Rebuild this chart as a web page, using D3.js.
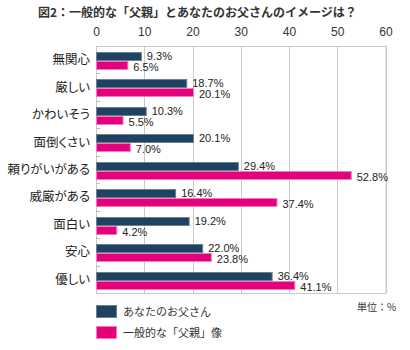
<!DOCTYPE html>
<html><head><meta charset="utf-8">
<script src="https://cdn.jsdelivr.net/npm/d3@7"></script>
<style>
body{margin:0;background:#fff;}
svg{display:block;font-family:"Liberation Sans","Noto Sans CJK JP",sans-serif;}
.jp{font-family:"Noto Sans CJK JP",sans-serif;}
.cat{font-feature-settings:"palt";}
</style></head>
<body><svg id="c" width="410" height="350"></svg>
<script>
const categories = ["無関心","厳しい","かわいそう","面倒くさい","頼りがいがある","威厳がある","面白い","安心","優しい"];
const seriesNames = ["あなたのお父さん","一般的な「父親」像"];
const yourFather = [9.3,18.7,10.3,20.1,29.4,16.4,19.2,22.0,36.4];
const generalFather = [6.5,20.1,5.5,7.0,52.8,37.4,4.2,23.8,41.1];
const xTicks = [0,10,20,30,40,50,60];
const title = "図2：一般的な「父親」とあなたのお父さんのイメージは？";
const unitLabel = "単位：%";

const colors = ["#1f4262","#e5007e"];
const strokes = ["#6a7f90","#f27cb8"];

const svg = d3.select("#c");
const pLeft = 96, pRight = 385.5, pTop = 46, pBottom = 293;
const x = d3.scaleLinear().domain([0,60]).range([pLeft,pRight]);
const y = d3.scaleBand().domain(categories).range([pTop,pBottom]).padding(0);

svg.append("text").attr("class","jp").attr("x",38).attr("y",17)
  .attr("font-size",12).attr("font-weight","bold").attr("fill","#333").text(title);

// grid
svg.append("g").selectAll("line").data(xTicks).join("line")
  .attr("x1",d=>Math.round(x(d))+0.5).attr("x2",d=>Math.round(x(d))+0.5).attr("y1",pTop).attr("y2",pBottom)
  .attr("stroke","#c8c8c8").attr("stroke-width",1);
svg.append("rect").attr("x",pLeft+0.5).attr("y",pTop+0.5).attr("width",pRight-pLeft).attr("height",pBottom-pTop)
  .attr("fill","none").attr("stroke","#c8c8c8");

// top axis labels
const ax = svg.append("g").attr("transform",`translate(0,${pTop-8})`)
  .call(d3.axisTop(x).tickValues(xTicks).tickSize(0).tickPadding(2));
ax.select(".domain").remove();
ax.selectAll("text").attr("font-size",12).attr("fill","#333").attr("font-family","Liberation Sans, sans-serif");

// left ticks at band boundaries
svg.append("g").selectAll("line").data(categories.slice(1)).join("line")
  .attr("x1",pLeft).attr("x2",pLeft+4).attr("y1",d=>Math.round(y(d))+0.5).attr("y2",d=>Math.round(y(d))+0.5)
  .attr("stroke","#bbb");

// category labels
svg.append("g").selectAll("text").data(categories).join("text").attr("class","jp cat")
  .attr("x",90).attr("y",d=>y(d)+y.bandwidth()/2).attr("dy","0.36em")
  .attr("text-anchor","end").attr("font-size",12.5).attr("fill","#222").text(d=>d);

const series = [yourFather, generalFather];
const offs = [6,15], bh = 9, lblDy = [0,1.5];
series.forEach((vals,si)=>{
  const g = svg.append("g");
  g.selectAll("rect").data(vals).join("rect")
    .attr("x",pLeft+0.5).attr("y",(d,i)=>Math.round(y(categories[i]))+offs[si]+0.5)
    .attr("width",d=>x(d)-pLeft).attr("height",bh-1)
    .attr("fill",colors[si]).attr("stroke",strokes[si]).attr("stroke-width",1);
  g.selectAll("text").data(vals).join("text")
    .attr("x",d=>x(d)+6).attr("y",(d,i)=>Math.round(y(categories[i]))+offs[si]+bh/2+lblDy[si])
    .attr("dy","0.36em").attr("font-size",11).attr("fill","#222")
    .text(d=>d.toFixed(1)+"%");
});

// legend
const lg = svg.append("g");
seriesNames.forEach((n,i)=>{
  const ly = 305 + i*21;
  lg.append("rect").attr("x",96.5).attr("y",ly+0.5).attr("width",20).attr("height",12)
    .attr("fill",colors[i]).attr("stroke",strokes[i]);
  lg.append("text").attr("class","jp").attr("x",123).attr("y",ly+7).attr("dy","0.36em")
    .attr("font-size",11).attr("fill","#333").text(n);
});
svg.append("text").attr("class","jp").attr("x",357).attr("y",307).attr("dy","0.36em")
  .attr("font-size",10).attr("fill","#333").text(unitLabel);
</script></body></html>
